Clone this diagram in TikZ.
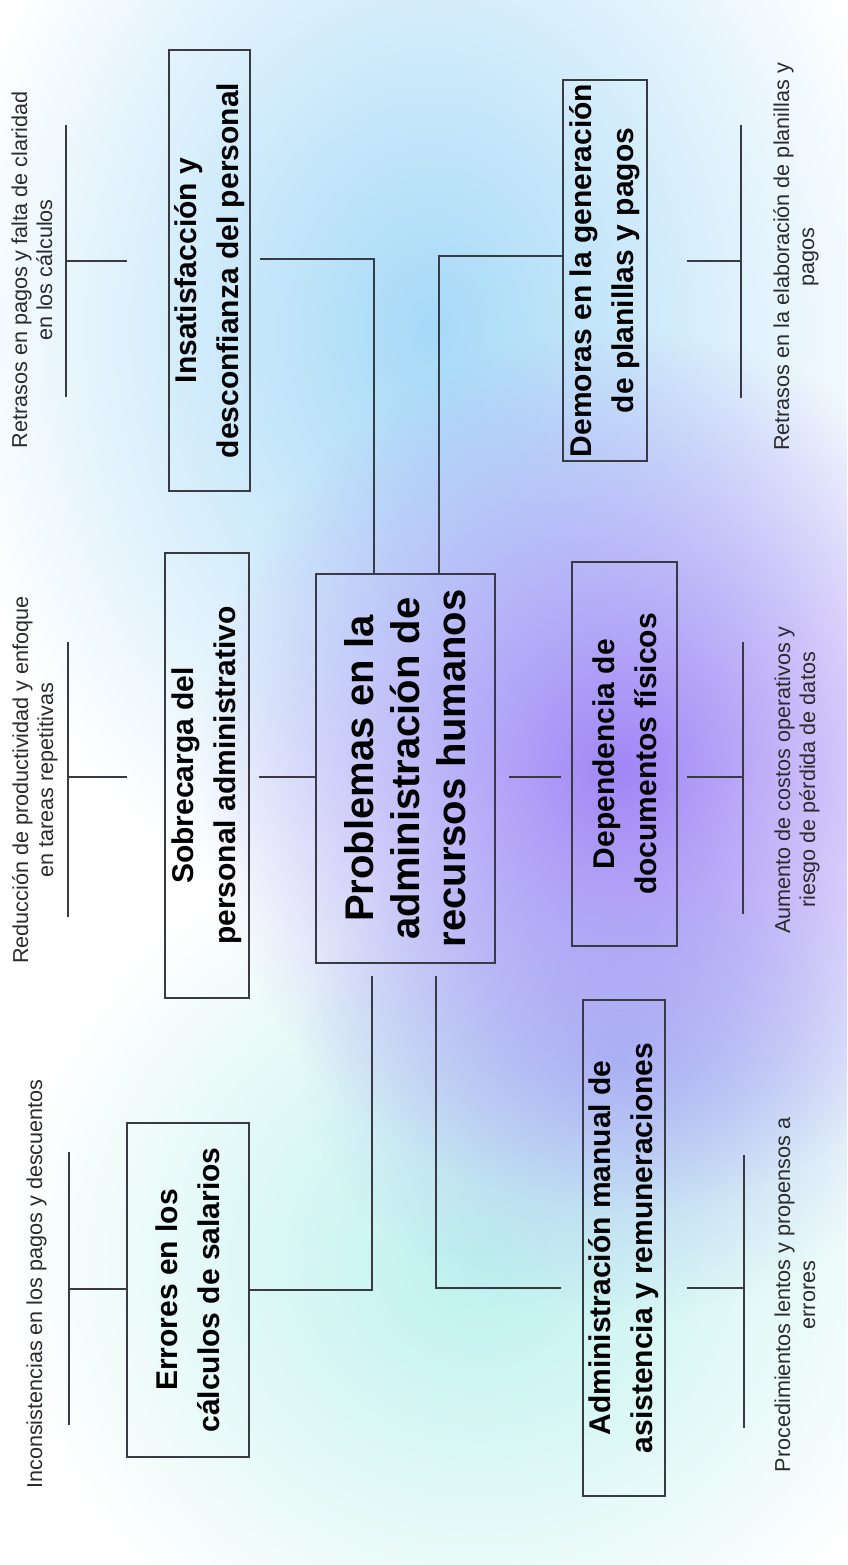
\documentclass[tikz,border=0pt]{standalone}
\usepackage{fontspec}
\setmainfont{Liberation Sans}
\usetikzlibrary{fadings}

\tikzfading[name=difuso, inner color=transparent!0, outer color=transparent!100]

\begin{document}
\begin{tikzpicture}[x=1pt, y=-1pt]

% Colores
\definecolor{lineaGris}{HTML}{3A3A42}
\definecolor{textoGris}{HTML}{2B2B2B}
\definecolor{fondoAzul}{HTML}{A6DAF8}
\definecolor{fondoLila}{HTML}{A086F6}
\definecolor{fondoCian}{HTML}{BDF2EE}
\definecolor{fondoCeleste}{HTML}{B2C6F4}

\tikzset{
  caja/.style={draw=lineaGris, line width=1.5pt, rotate=90, align=center, inner sep=0pt,
    font=\fontsize{30}{42}\selectfont\bfseries},
  efecto/.style={rotate=90, align=center, inner sep=0pt, text=textoGris,
    font=\fontsize{21.6}{25}\selectfont},
  linea/.style={draw=lineaGris, line width=1.5pt},
}

% Fondo degradado
\useasboundingbox (0,0) rectangle (847,1565);
\begin{scope}
\clip (0,0) rectangle (847,1565);
\fill[white] (0,0) rectangle (847,1565);
\fill[fondoCian, path fading=difuso] (480,1260) ellipse (470 and 440);
\fill[fondoAzul, path fading=difuso] (430,330) ellipse (480 and 620);
\fill[fondoCeleste, path fading=difuso] (620,1060) ellipse (320 and 260);
\fill[fondoLila, path fading=difuso] (620,770) ellipse (420 and 440);
\end{scope}

% Problema central
\node[caja, font=\fontsize{40}{46}\selectfont\bfseries, minimum width=389pt, minimum height=179pt]
  (prob) at (405.5,768.5) {Problemas en la\\administración de\\recursos humanos};

% Causas y efectos (izquierda)
\node[caja, minimum width=441pt, minimum height=81pt] (ins) at (209.5,270.5)
  {Insatisfacción y\\desconfianza del personal};
\node[caja, minimum width=445pt, minimum height=84pt] (sob) at (207,775.5)
  {Sobrecarga del\\personal administrativo};
\node[caja, minimum width=334pt, minimum height=122pt] (err) at (188,1290)
  {Errores en los\\cálculos de salarios};

% Causas y efectos (derecha)
\node[caja, minimum width=381pt, minimum height=84pt] (dem) at (605,270.5)
  {Demoras en la generación\\de planillas y pagos};
\node[caja, minimum width=384pt, minimum height=105pt] (dep) at (624.5,754)
  {Dependencia de\\documentos físicos};
\node[caja, minimum width=496pt, minimum height=82pt] (adm) at (624,1248)
  {Administración manual de\\asistencia y remuneraciones};

% Consecuencias
\node[efecto] (ef-ins) at (32,270) {Retrasos en pagos y falta de claridad\\en los cálculos};
\node[efecto] (ef-sob) at (35,780) {Reducción de productividad y enfoque\\en tareas repetitivas};
\node[efecto] (ef-err) at (36.5,1284) {Inconsistencias en los pagos y descuentos};
\node[efecto] (ef-dem) at (796,257) {Retrasos en la elaboración de planillas y\\pagos};
\node[efecto] (ef-dep) at (797,780) {Aumento de costos operativos y\\riesgo de pérdida de datos};
\node[efecto] (ef-adm) at (795,1295) {Procedimientos lentos y propensos a\\errores};

% Llaves de las consecuencias
\coordinate (br-ins) at (66,261);
\coordinate (br-sob) at (68,777);
\coordinate (br-err) at (69,1289);
\coordinate (br-dem) at (741,261);
\coordinate (br-dep) at (743,777);
\coordinate (br-adm) at (744,1288);

\draw[linea] (66,125) -- (66,397);
\draw[linea] (68,642) -- (68,917);
\draw[linea] (69,1152) -- (69,1425);
\draw[linea] (741,125) -- (741,398);
\draw[linea] (743,642) -- (743,914);
\draw[linea] (744,1155) -- (744,1428);

\draw[linea] (br-ins) -- ++(61,0);
\draw[linea] (br-sob) -- ++(59,0);
\draw[linea] (br-err) -- (br-err -| err.north);
\draw[linea] (br-dem) -- ++(-54,0);
\draw[linea] (br-dep) -- ++(-56,0);
\draw[linea] (br-adm) -- ++(-57,0);

% Conectores al problema central
\coordinate (medio) at ([yshift=-8.5pt]prob.center);
\draw[linea, shorten <=9pt] ([yshift=11.5pt]ins.south) -| ([xshift=-31.5pt]prob.east);
\draw[linea] ([yshift=14.5pt]dem.north) -| ([xshift=33.5pt]prob.east);
\draw[linea, shorten <=9pt] (medio -| sob.south) -- (medio -| prob.north);
\draw[linea, shorten <=13pt, shorten >=10pt] (medio -| prob.south) -- (medio -| dep.north);
\draw[linea, shorten <=12pt] ([xshift=-33.5pt]prob.west) |- (err.south);
\draw[linea, shorten <=12pt, shorten >=21pt] ([xshift=30.5pt]prob.west) |- ([yshift=-40pt]adm.north);

\end{tikzpicture}
\end{document}
